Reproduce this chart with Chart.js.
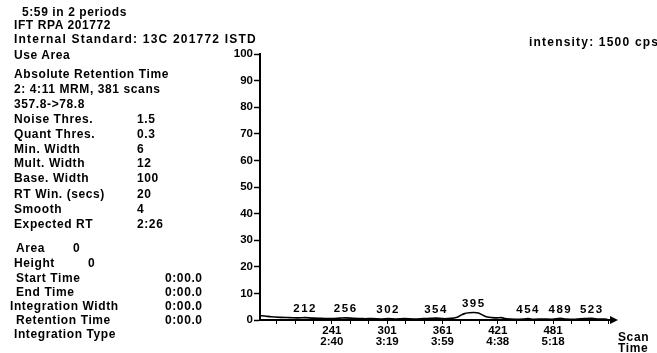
<!DOCTYPE html>
<html>
<head>
<meta charset="utf-8">
<script src="https://cdn.jsdelivr.net/npm/chart.js@4.4.1/dist/chart.umd.min.js"></script>
<style>
  body { margin: 0; background: #fff; }
  #wrap { position: relative; width: 657px; height: 353px; overflow: hidden; }
  #c { position: absolute; left: 0; top: 0; }
  .t { position: absolute; font: bold 12px "Liberation Sans", Arial, sans-serif; color: #000;
       white-space: pre; letter-spacing: 0.6px; line-height: 12px; }
  .wide { letter-spacing: 1.2px; }
</style>
</head>
<body>
<div id="wrap">
  <canvas id="c" width="657" height="353"></canvas>
  <div id="info"></div>
</div>
<script>
// trace (scan number / relative intensity %)
const scans = [163, 168, 175, 185, 195, 205, 212, 220, 230, 241, 250, 256, 265, 275, 285, 295, 302, 310, 320, 330,
  340, 348, 354, 362, 370, 376, 380, 385, 390, 395, 400, 405, 410, 415, 420, 425, 430, 440, 450, 454,
  460, 470, 480, 489, 495, 505, 515, 523, 530, 540];
const intensity = [1.6, 1.5, 1.2, 1.0, 0.9, 0.8, 0.9, 0.7, 0.6, 0.5, 0.7, 0.8, 0.6, 0.5, 0.5, 0.4, 0.5, 0.4, 0.5, 0.4,
  0.5, 0.6, 0.7, 0.5, 0.6, 0.9, 1.6, 2.4, 2.7, 2.8, 2.6, 1.8, 1.1, 0.9, 0.8, 0.9, 0.5, 0.3, 0.4, 0.5,
  0.3, 0.4, 0.3, 0.6, 0.4, 0.3, 0.5, 0.6, 0.4, 0.3];
const peakScans = [212, 256, 302, 354, 395, 454, 489, 523];
const peakHeights = [0.9, 0.8, 0.5, 0.7, 2.8, 0.5, 0.6, 0.6];
const tickScans = [241, 301, 361, 421, 481];
const tickTimes = ['2:40', '3:19', '3:59', '4:38', '5:18'];

const infoLabels = ['5:59 in 2 periods', 'IFT RPA 201772', 'Internal Standard: 13C 201772 ISTD', 'Use Area',
  'Absolute Retention Time', '2: 4:11 MRM, 381 scans', '357.8->78.8', 'Noise Thres.', 'Quant Thres.',
  'Min. Width', 'Mult. Width', 'Base. Width', 'RT Win. (secs)', 'Smooth', 'Expected RT',
  'Area', 'Height', 'Start Time', 'End Time', 'Integration Width', 'Retention Time', 'Integration Type'];
const infoValues = ['', '', '', '', '', '', '', '1.5', '0.3', '6', '12', '100', '20', '4', '2:26',
  '0', '0', '0:00.0', '0:00.0', '0:00.0', '0:00.0', ''];

// layout of the text block (top of each line, left of label and value)
const infoTops = [6, 19, 33, 49, 68, 83, 98, 113, 128, 143, 157, 172, 188, 203, 218, 242, 257, 272, 286, 300, 314, 328];
const infoLefts = [22, 14, 14, 14, 14, 14, 14, 14, 14, 14, 14, 14, 14, 14, 14, 16, 14, 16, 16, 10, 16, 14];
const valueLefts = [0, 0, 0, 0, 0, 0, 0, 137, 137, 137, 137, 137, 137, 137, 137, 73, 88, 165, 165, 165, 165, 0];

const info = document.getElementById('info');
function addText(txt, left, top, cls) {
  const d = document.createElement('div');
  d.className = 't' + (cls ? ' ' + cls : '');
  d.style.left = left + 'px';
  d.style.top = top + 'px';
  d.textContent = txt;
  info.appendChild(d);
}
infoLabels.forEach((lab, i) => {
  addText(lab, infoLefts[i], infoTops[i], i === 2 ? 'wide' : '');
  if (infoValues[i]) addText(infoValues[i], valueLefts[i], infoTops[i]);
});
addText('intensity: 1500 cps', 529, 36, 'wide');
addText('Scan', 618, 331);
addText('Time', 618, 342);

const FONT = '"Liberation Sans", Arial, sans-serif';

const peakLabels = {
  id: 'peakLabels',
  afterDatasetsDraw(chart) {
    const c = chart.ctx, x = chart.scales.x, y = chart.scales.y;
    c.save();
    c.fillStyle = '#000';
    c.font = 'bold 11.5px ' + FONT;
    c.letterSpacing = '1.5px';
    c.textAlign = 'center';
    c.textBaseline = 'bottom';
    peakScans.forEach((s, i) => {
      c.fillText(String(s), x.getPixelForValue(s), y.getPixelForValue(peakHeights[i]) - 3);
    });
    c.restore();
  }
};

const axisArrow = {
  id: 'axisArrow',
  afterDraw(chart) {
    const c = chart.ctx, a = chart.chartArea;
    c.save();
    c.fillStyle = '#000';
    c.beginPath();
    c.moveTo(a.right + 6, a.bottom);
    c.lineTo(a.right - 2, a.bottom - 4);
    c.lineTo(a.right - 2, a.bottom + 4);
    c.closePath();
    c.fill();
    c.restore();
  }
};

new Chart(document.getElementById('c'), {
  type: 'line',
  data: {
    datasets: [{
      data: scans.map((s, i) => ({ x: s, y: intensity[i] })),
      borderColor: '#000',
      borderWidth: 1.6,
      pointRadius: 0,
      tension: 0.3
    }]
  },
  options: {
    responsive: false,
    animation: false,
    layout: { padding: { top: 54, right: 45, left: 0, bottom: 0 } },
    plugins: { legend: { display: false }, tooltip: { enabled: false } },
    scales: {
      x: {
        type: 'linear',
        min: 163,
        max: 545,
        afterBuildTicks(s) {
          const t = [];
          for (let v = 181; v <= 541; v += 20) t.push({ value: v });
          s.ticks = t;
        },
        afterFit(s) { s.height = 33; },
        ticks: {
          autoSkip: false,
          maxRotation: 0,
          padding: 1,
          color: '#000',
          font: { family: FONT, size: 11.5, weight: 'bold', lineHeight: 0.95 },
          callback(v) {
            const i = tickScans.indexOf(v);
            return i < 0 ? '' : [String(v), tickTimes[i]];
          }
        },
        grid: { drawOnChartArea: false, tickLength: 4, tickColor: '#000', tickWidth: 1 },
        border: { color: '#000', width: 2 }
      },
      y: {
        min: 0,
        max: 100,
        afterFit(s) { s.width = 260; },
        ticks: {
          stepSize: 10,
          padding: 1,
          color: '#000',
          font: { family: FONT, size: 11.5, weight: 'bold' }
        },
        grid: { drawOnChartArea: false, tickLength: 6, tickColor: '#000', tickWidth: 1.5 },
        border: { color: '#000', width: 2 }
      }
    }
  },
  plugins: [peakLabels, axisArrow]
});
</script>
</body>
</html>
